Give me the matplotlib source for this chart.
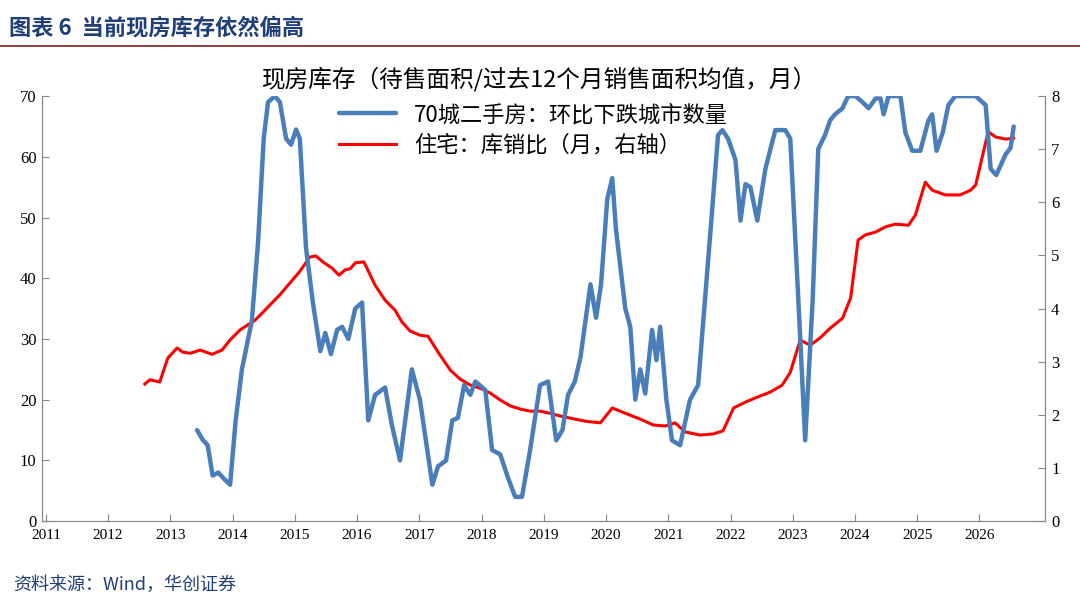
import matplotlib
matplotlib.use("Agg")
import matplotlib.pyplot as plt

plt.rcParams['font.family'] = ['Noto Sans CJK SC', 'DejaVu Sans']

blue_t = [2013.43,2013.52,2013.60,2013.68,2013.77,2013.86,2013.96,2014.05,2014.15,2014.25,2014.31,2014.41,2014.50,2014.57,2014.68,2014.76,2014.86,2014.94,2015.02,2015.08,2015.18,2015.29,2015.41,2015.49,2015.58,2015.68,2015.76,2015.86,2015.97,2016.08,2016.18,2016.29,2016.45,2016.56,2016.69,2016.88,2017.01,2017.21,2017.30,2017.43,2017.53,2017.62,2017.72,2017.82,2017.90,2018.06,2018.17,2018.30,2018.43,2018.54,2018.65,2018.78,2018.94,2019.07,2019.20,2019.30,2019.39,2019.50,2019.59,2019.75,2019.84,2019.92,2020.02,2020.10,2020.16,2020.31,2020.39,2020.47,2020.55,2020.63,2020.74,2020.81,2020.87,2020.97,2021.06,2021.19,2021.35,2021.48,2021.68,2021.80,2021.87,2021.96,2022.08,2022.16,2022.24,2022.32,2022.43,2022.56,2022.72,2022.88,2022.96,2023.09,2023.20,2023.32,2023.41,2023.52,2023.60,2023.68,2023.80,2023.89,2024.01,2024.12,2024.22,2024.33,2024.41,2024.46,2024.54,2024.68,2024.73,2024.81,2024.92,2025.05,2025.18,2025.24,2025.31,2025.41,2025.50,2025.61,2025.94,2026.10,2026.18,2026.27,2026.42,2026.50,2026.55]
blue_v = [15,13.4,12.5,7.5,8,7,6,16.6,25,30,33,46,63,69,70,69,63,62,64.5,63,45,36,28,31,27.5,31.5,32,30,35,36,16.6,20.8,22,15.8,10,25,20,6,9,10,16.6,17,22.4,20.8,23,21.6,11.7,11,7,4,4,11.7,22.4,23,13.3,15,20.8,23,27,39,33.5,39,53,56.5,48,35,32,20,25,21,31.5,26.5,32,20,13.3,12.5,20,22.4,48,63.6,64.4,63,59.5,49.5,55.5,55,49.5,58,64.4,64.4,63,36.4,13.3,36.4,61.3,63.6,66,67,68,70,70,69,68,69.6,69.6,67,70,70,70,64,61,61,66,67,61,64,68.5,70,70,68.5,58,57,60.4,61.5,65]

red_t = [2012.59,2012.67,2012.83,2012.96,2013.11,2013.20,2013.32,2013.48,2013.67,2013.83,2013.96,2014.12,2014.36,2014.52,2014.76,2014.92,2015.08,2015.24,2015.34,2015.45,2015.60,2015.71,2015.81,2015.89,2015.97,2016.11,2016.29,2016.45,2016.61,2016.72,2016.85,2017.01,2017.14,2017.33,2017.50,2017.66,2017.82,2017.98,2018.14,2018.30,2018.46,2018.62,2018.78,2018.94,2019.10,2019.26,2019.42,2019.67,2019.91,2020.10,2020.31,2020.55,2020.76,2020.95,2021.11,2021.27,2021.51,2021.72,2021.88,2022.05,2022.24,2022.40,2022.64,2022.83,2022.96,2023.12,2023.28,2023.44,2023.60,2023.80,2023.93,2024.05,2024.17,2024.33,2024.49,2024.65,2024.86,2024.97,2025.13,2025.24,2025.45,2025.69,2025.86,2025.94,2026.14,2026.26,2026.42,2026.55]
red_v = [2.58,2.66,2.62,3.07,3.26,3.18,3.16,3.22,3.14,3.22,3.41,3.6,3.78,3.97,4.26,4.48,4.7,4.97,4.99,4.88,4.76,4.63,4.73,4.75,4.86,4.88,4.44,4.16,3.97,3.75,3.58,3.5,3.48,3.13,2.84,2.67,2.56,2.5,2.41,2.28,2.17,2.11,2.07,2.07,2.03,1.98,1.94,1.88,1.85,2.13,2.03,1.92,1.81,1.79,1.85,1.68,1.62,1.64,1.7,2.13,2.24,2.32,2.43,2.56,2.8,3.41,3.31,3.45,3.63,3.82,4.2,5.29,5.39,5.44,5.54,5.59,5.57,5.76,6.38,6.23,6.14,6.14,6.23,6.33,7.33,7.23,7.19,7.21]

years = list(range(2011, 2027))

fig = plt.figure(figsize=(10.8, 6.16), dpi=100)
ax = fig.add_axes([0.039, 0.154, 0.929, 0.69])
ax2 = ax.twinx()
l1, = ax.plot(blue_t, blue_v, color='#4A7EBB', lw=3.2, solid_capstyle='round', solid_joinstyle='round')
l2, = ax2.plot(red_t, red_v, color='#FF0000', lw=2.2)
ax2.set_zorder(ax.get_zorder() - 1)
ax.patch.set_visible(False)

ax.set_xlim(2010.94, 2027.06)
ax.set_ylim(0, 70)
ax2.set_ylim(0, 8)
ax.set_yticks(range(0, 71, 10))
ax2.set_yticks(range(0, 9))
ax.set_xticks(years)
ax.set_xticklabels([str(y) for y in years], family='Liberation Serif', fontsize=11)
for lab in ax.get_yticklabels() + ax2.get_yticklabels():
    lab.set_family('Liberation Serif'); lab.set_fontsize(12)
for a in (ax, ax2):
    a.spines['top'].set_visible(False)
    a.spines['left'].set_color('#888888'); a.spines['right'].set_color('#888888'); a.spines['bottom'].set_color('#888888')
ax.tick_params(axis='x', direction='in', length=5, color='#888888', pad=6)
ax.tick_params(axis='y', direction='in', length=5, color='#888888', pad=4)
ax2.tick_params(axis='y', direction='in', length=5, color='#888888', pad=4)

fig.text(0.5, 0.872, '现房库存（待售面积/过去12个月销售面积均值，月）', ha='center', va='center', fontsize=17)
ax.legend([l1, l2], ['70城二手房：环比下跌城市数量', '住宅：库销比（月，右轴）'], loc='upper left',
          bbox_to_anchor=(0.28, 1.02), frameon=False, fontsize=16, handlelength=2.6, labelspacing=0.35, borderpad=0.2)

fig.text(0.008, 0.955, '图表 6  当前现房库存依然偏高', ha='left', va='center', fontsize=16, color='#1F3E7A', weight='bold')
fig.add_artist(plt.Line2D([0.0, 1.0], [0.925, 0.925], color='#8B1A1A', lw=1.2))
fig.text(0.012, 0.05, '资料来源：Wind，华创证券', ha='left', va='center', fontsize=13, color='#1F3E7A', style='italic')

fig.savefig('out.png', dpi=100)
